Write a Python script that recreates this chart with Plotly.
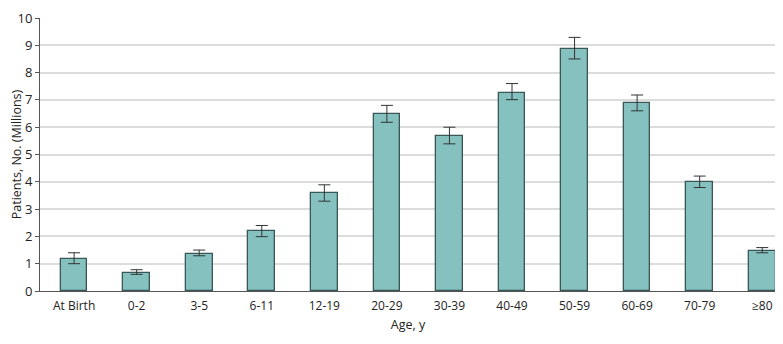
import plotly.graph_objects as go

categories = ["At Birth", "0-2", "3-5", "6-11", "12-19", "20-29", "30-39", "40-49", "50-59", "60-69", "70-79", "≥80"]
values = [1.18, 0.67, 1.37, 2.18, 3.60, 6.49, 5.67, 7.26, 8.87, 6.88, 3.99, 1.48]
err_upper = [1.40, 0.78, 1.50, 2.40, 3.89, 6.80, 6.00, 7.60, 9.29, 7.18, 4.21, 1.59]
err_lower = [1.00, 0.61, 1.29, 1.99, 3.29, 6.18, 5.39, 7.01, 8.50, 6.60, 3.79, 1.40]

plus = [u - v for u, v in zip(err_upper, values)]
minus = [v - l for v, l in zip(values, err_lower)]

fig = go.Figure(go.Bar(
    x=categories, y=values, width=0.425,
    marker=dict(color="#84c1bf", line=dict(color="#3a5656", width=1.3)),
    error_y=dict(type="data", array=plus, arrayminus=minus, symmetric=False,
                 color="#333333", thickness=1, width=6),
))

font = "Open Sans, Noto Sans, sans-serif"
fig.update_layout(
    width=783, height=344,
    margin=dict(l=32, r=15, t=10, b=61),
    plot_bgcolor="white", paper_bgcolor="white",
    font=dict(family=font, size=12, color="#222222"),
    showlegend=False,
    bargap=0,
)
fig.update_xaxes(
    type="category", range=[-0.545, 11.22], automargin=False,
    showline=True, linecolor="#555555", linewidth=1,
    ticks="", showgrid=False, ticklabelstandoff=4,
    title=dict(text="Age, y", standoff=6, font=dict(size=12.5)),
    tickfont=dict(size=12),
)
fig.update_yaxes(
    range=[0, 10], dtick=1, automargin=False,
    showline=True, linecolor="#555555", linewidth=1,
    ticks="outside", ticklen=4, tickcolor="#555555",
    showgrid=True, gridcolor="#dcdcdc", gridwidth=1.5,
    zeroline=False,
    title=dict(text="Patients, No. (Millions)", standoff=11, font=dict(size=12.5)),
    tickfont=dict(size=13),
)

fig.write_html("out.html")
